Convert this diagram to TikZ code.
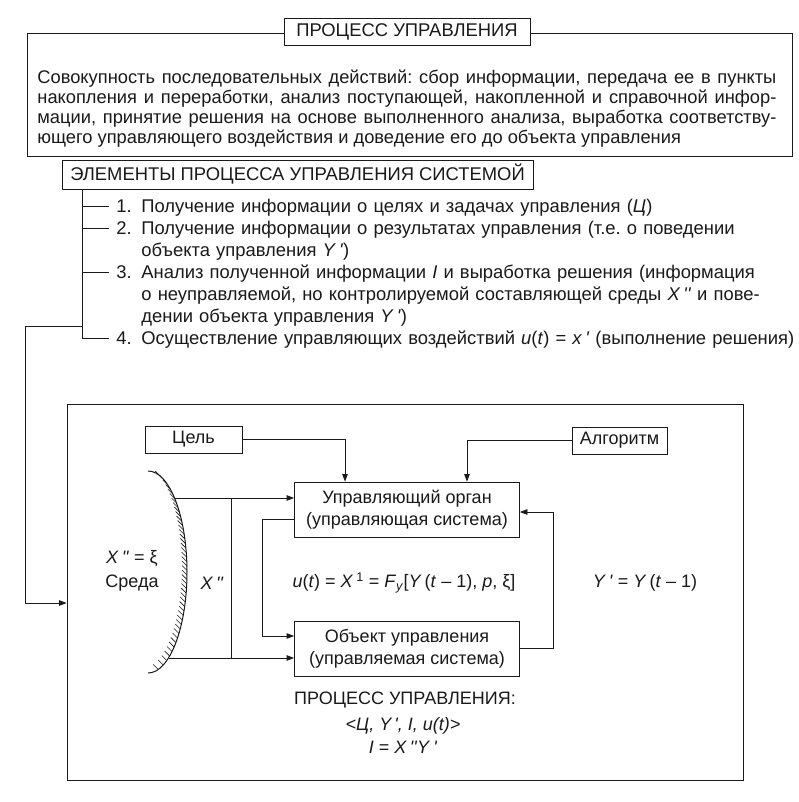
\documentclass[tikz,border=0pt]{standalone}
\usepackage{fontspec}
\setmainfont{Liberation Sans}
\usetikzlibrary{arrows.meta,positioning}
\definecolor{ink}{HTML}{1A1A1A}
\newcommand{\pr}{\textit{\textquotesingle}}
\newcommand{\dpr}{\textit{\textquotesingle\textquotesingle}}
\frenchspacing

\begin{document}
\begin{tikzpicture}[
  x=1pt,y=-1pt,
  color=ink,
  line width=.8pt,
  font=\fontsize{18}{21}\selectfont,
  upper/.style={font=\fontsize{18.4}{22}\selectfont},
  arrow/.style={-{Triangle[length=7.5pt,width=5.5pt]}},
  box/.style={draw,fill=white,inner sep=0pt,align=center},
  item/.style={upper,anchor=base west,inner sep=0pt,text width=700pt,align=left},
  hatch/.style={line width=.6pt}
]
  \useasboundingbox[fill=white] (0,0) rectangle (799,802);

  % definition of the process
  \draw (27,33) rectangle (792,156);
  \node[box,upper,minimum width=246pt,minimum height=27pt] (title) at (407,31.5)
    {ПРОЦЕСС УПРАВЛЕНИЯ};
  \node[anchor=base west,inner sep=0pt,text width=739pt,align=justify,
    font=\fontsize{18.3}{20}\selectfont] (defn) at (37,83.7)
    {Совокупность последовательных действий: сбор информации, передача ее в пункты\linebreak
     накопления и переработки, анализ поступающей, накопленной и справочной инфор-\linebreak
     мации, принятие решения на основе выполненного анализа, выработка соответству-\linebreak
     ющего управляющего воздействия и доведение его до объекта управления};

  % elements
  \node[box,upper,minimum width=471pt,minimum height=29pt] (elem) at (297.5,174.5)
    {ЭЛЕМЕНТЫ ПРОЦЕССА УПРАВЛЕНИЯ СИСТЕМОЙ};
  \node[item] (it1) at (116,212.7)
    {\makebox[25pt][l]{1.}Получение информации о целях и задачах управления (\textit{Ц})};
  \node[item] (it2) at (116,234.7)
    {\makebox[25pt][l]{2.}Получение информации о результатах управления (т.е. о поведении\\
     \hspace*{25pt}объекта управления \textit{Y}\,\pr)};
  \node[item] (it3) at (116,278.7)
    {\makebox[25pt][l]{3.}Анализ полученной информации \textit{I} и выработка решения (информация\\
     \hspace*{25pt}о неуправляемой, но контролируемой составляющей среды \textit{X}\,\dpr{} и пове-\\
     \hspace*{25pt}дении объекта управления \textit{Y}\,\pr)};
  \node[item] (it4) at (116,344.7)
    {\makebox[25pt][l]{4.}Осуществление управляющих воздействий \textit{u}(\textit{t}) = \textit{x}\,\pr{} (выполнение решения)};

  \coordinate (trunk) at (elem.south -| 82,0);
  \foreach \i in {1,...,4}
    \coordinate (t\i) at ([xshift=-7pt,yshift=6.7pt]it\i.base west);
  \draw (trunk) |- (t4);
  \foreach \i in {1,2,3}
    \draw (t\i -| trunk) -- (t\i);
  \coordinate (fork) at (82,326);

  % control scheme
  \node[draw,minimum width=676pt,minimum height=376pt,inner sep=0pt] (scheme)
    at (405,592) {};
  \draw[arrow] (fork) -- ++(-57,0) |- (scheme.west |- 0,603);

  \node[box,minimum width=97pt,minimum height=27pt] (goal) at (193.5,439.5) {Цель};
  \node[box,minimum width=95pt,minimum height=27pt] (algo) at (619.5,440.5) {Алгоритм};
  \node[box,minimum width=225pt,minimum height=55pt,
    font=\fontsize{18}{22}\selectfont] (ctrl) at (407,509.5)
    {Управляющий орган\\(управляющая система)};
  \node[box,minimum width=225pt,minimum height=55pt,
    font=\fontsize{18}{22}\selectfont] (obj) at (407,648.5)
    {Объект управления\\(управляемая система)};

  % environment
  \draw[line width=1pt] (148,471) arc[start angle=-90,end angle=90,
    x radius=39,y radius=101];
  \foreach \y in {476,480.5,...,670}
    \draw[hatch] ({148+39*sqrt(1-((\y-572)/101)^2)},\y) -- ++(-5,-5);
  \coordinate (envtop) at (175,498);
  \coordinate (envbot) at (169,658);

  \draw[arrow] (goal.east) -| (ctrl.north -| 345,0);
  \draw[arrow] (algo.west) -| (ctrl.north -| 467,0);
  \draw[arrow] (envtop) -- (ctrl.west |- envtop);
  \draw[arrow] (envbot) -- (obj.west |- envbot);
  \draw (envtop -| 231,0) -- (envbot -| 231,0);
  \draw[arrow] (ctrl.west |- 0,519) -- ++(-32,0) |- (obj.west |- 0,636);
  \draw[arrow] (obj.east) -- ++(33,0) |- (ctrl.east |- 0,512);

  \node[align=center,font=\fontsize{18}{24}\selectfont] (env) at (132,571)
    {\textit{X}\,\dpr{} = ξ\\Среда};
  \node (xin) at (212,583) {\textit{X}\,\dpr};
  \node (law) at (404,583)
    {\textit{u}(\textit{t}) = \textit{X}\,\textsuperscript{1} = \textit{F}\textsubscript{\textit{y}}[\textit{Y}\,(\textit{t} – 1), \textit{p}, ξ]};
  \node (delay) at (645,583) {\textit{Y}\,\pr{} = \textit{Y}\,(\textit{t} – 1)};

  \node (proc) at (405,700) {ПРОЦЕСС УПРАВЛЕНИЯ:};
  \node[font=\fontsize{18}{21}\selectfont\itshape] (tuple) at (403,726)
    {<Ц, Y\,\pr, I, u(t)>};
  \node (info) at (403,747) {\textit{I} = \textit{X}\,\dpr\textit{Y}\,\pr};
\end{tikzpicture}
\end{document}
